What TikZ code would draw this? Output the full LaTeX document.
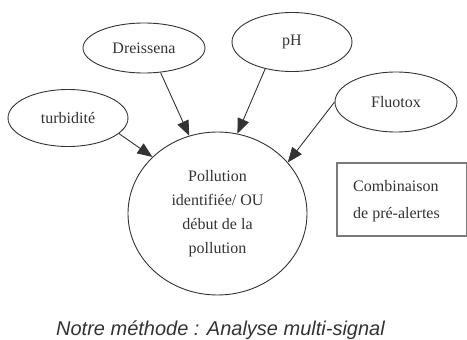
\documentclass[tikz,border=0pt]{standalone}
\usepackage{fontspec}
\setmainfont{Liberation Serif}
\newfontfamily\capfont{Liberation Sans}
\usetikzlibrary{shapes.geometric,arrows.meta}
\definecolor{ink}{HTML}{333333}
\definecolor{boxgray}{HTML}{7A7A7A}
\tikzset{
  sig/.style={draw=ink, line width=0.9pt, ellipse, inner sep=0pt, text=ink,
    font=\fontsize{16}{19}\selectfont},
  arr/.style={draw=ink, line width=0.9pt, -{Triangle[length=15pt,width=12pt]}},
}
\begin{document}
\begin{tikzpicture}[x=1pt,y=-1pt]
\useasboundingbox (0,0) rectangle (467,340);
\node[sig, minimum width=122pt, minimum height=50pt] (dre) at (144,48) {Dreissena};
\node[sig, minimum width=120pt, minimum height=59pt] (ph) at (292,42) {pH};
\node[sig, minimum width=120pt, minimum height=57pt] (tur) at (68,118) {turbidité};
\node[sig, minimum width=122pt, minimum height=60pt] (flu) at (396,102) {Fluotox};
\node[sig, minimum width=179pt, minimum height=163pt, align=center,
  font=\fontsize{16}{24}\selectfont] (pol) at (217.5,213.5)
  {Pollution\\identifiée/ OU\\début de la\\pollution};
\node[draw=boxgray, line width=1.5pt, anchor=north west, minimum width=130pt,
  minimum height=73pt, inner sep=0pt] (box) at (336,162) {};
\node[anchor=north west, inner sep=0pt, align=left, text=ink,
  font=\fontsize{16}{27}\selectfont] (boxtxt) at (353,180) {Combinaison\\de pré-alertes};
\draw[arr] (dre.-56) -- (pol.110.5);
\draw[arr] (ph.225) -- (pol.76.5);
\draw[arr] (tur.-17.7) -- (pol.139.7);
\draw[arr] (flu.180) -- (pol.36);
\node[anchor=base, text=ink, font=\capfont\itshape\fontsize{20}{24}\selectfont] (cap) at (220.5,335)
  {Notre méthode : Analyse multi-signal};
\end{tikzpicture}
\end{document}
